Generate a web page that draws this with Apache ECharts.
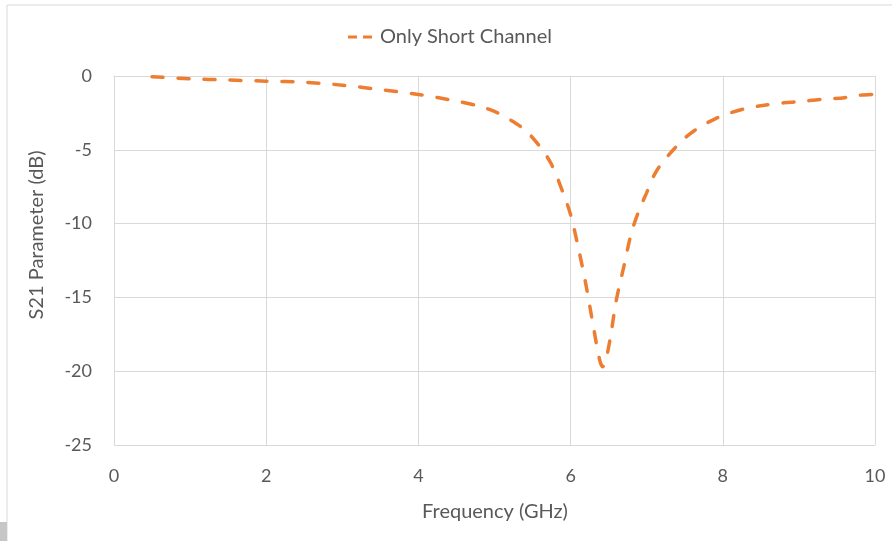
<!DOCTYPE html>
<html>
<head>
<meta charset="utf-8">
<script src="https://cdn.jsdelivr.net/npm/echarts@6/dist/echarts.min.js"></script>
<style>html,body{margin:0;padding:0;background:#fff;}#c{width:892px;height:541px;}</style>
</head>
<body>
<div id="c"></div>
<script>
const seriesName = 'Only Short Channel';
const freq = [0.5, 1, 1.5, 2, 2.5, 3, 3.5, 4, 4.5, 4.8, 5, 5.2, 5.4, 5.6, 5.75, 5.9, 6.0, 6.1, 6.2, 6.3, 6.38, 6.42, 6.46, 6.52, 6.6, 6.7, 6.8, 6.9, 7.0, 7.1, 7.2, 7.35, 7.5, 7.7, 7.9, 8.1, 8.3, 8.5, 8.8, 9.0, 9.3, 9.6, 9.8, 10];
const s21 = [-0.05, -0.19, -0.27, -0.35, -0.42, -0.62, -0.92, -1.25, -1.7, -2.05, -2.4, -2.95, -3.65, -4.8, -6.0, -7.9, -9.4, -11.6, -14.1, -17.0, -19.2, -19.7, -19.3, -17.8, -15.2, -12.9, -10.6, -9.1, -7.9, -6.7, -5.9, -5.0, -4.2, -3.45, -2.9, -2.5, -2.2, -2.02, -1.82, -1.74, -1.58, -1.47, -1.3, -1.24];
const xTicks = [0, 2, 4, 6, 8, 10];
const yTicks = [0, -5, -10, -15, -20, -25];
const xTitle = 'Frequency (GHz)';
const yTitle = 'S21 Parameter (dB)';

const FONT = 'Lato';
const chart = echarts.init(document.getElementById('c'), null, {renderer: 'canvas'});
chart.setOption({
  animation: false,
  backgroundColor: '#fff',
  textStyle: {fontFamily: FONT},
  grid: {left: 114, right: 17, top: 76, bottom: 96, containLabel: false},
  legend: {
    data: [{name: seriesName, icon: 'path://M0,0H9V3H0Z M15,0H24V3H15Z', itemStyle: {color: '#ED7D31'}}],
    left: 343, top: 22, itemWidth: 24, itemHeight: 3.5, itemGap: 8,
    textStyle: {fontFamily: FONT, fontSize: 20, color: '#595959', padding: [0, 0, 0, 3]}
  },
  xAxis: {
    type: 'value', min: xTicks[0], max: xTicks[xTicks.length - 1], interval: 2,
    axisLine: {show: true, lineStyle: {color: '#d9d9d9', width: 1}},
    axisTick: {show: false},
    splitLine: {show: true, lineStyle: {color: '#d9d9d9', width: 1}},
    axisLabel: {fontFamily: FONT, fontSize: 18, color: '#595959', margin: 22}
  },
  yAxis: {
    type: 'value', min: yTicks[yTicks.length - 1], max: yTicks[0], interval: 5,
    axisLine: {show: true, lineStyle: {color: '#d9d9d9', width: 1}},
    axisTick: {show: false},
    splitLine: {show: true, lineStyle: {color: '#d9d9d9', width: 1}},
    axisLabel: {fontFamily: FONT, fontSize: 18, color: '#595959', margin: 22}
  },
  graphic: [
    {type: 'rect', shape: {x: 7, y: 5, width: 1000, height: 1000}, style: {fill: 'none', stroke: '#d9d9d9', lineWidth: 1}, silent: true, z: -1},
    {type: 'rect', shape: {x: 0, y: 522, width: 7, height: 19}, style: {fill: '#c6c6c6'}, silent: true},
    {type: 'text', x: 495, y: 512, style: {text: xTitle, fontFamily: FONT, fontSize: 20, fill: '#595959', align: 'center', verticalAlign: 'middle'}},
    {type: 'text', x: 37, y: 235, rotation: Math.PI / 2, style: {text: yTitle, fontFamily: FONT, fontSize: 20, fill: '#595959', align: 'center', verticalAlign: 'middle'}}
  ],
  series: [{
    name: seriesName, type: 'line', smooth: 0.3, showSymbol: false, symbol: 'none',
    data: freq.map((f, i) => [f, s21[i]]),
    lineStyle: {color: '#ED7D31', width: 3.5, type: [11, 15], cap: 'round'},
    itemStyle: {color: '#ED7D31'}
  }]
});
</script>
</body>
</html>
